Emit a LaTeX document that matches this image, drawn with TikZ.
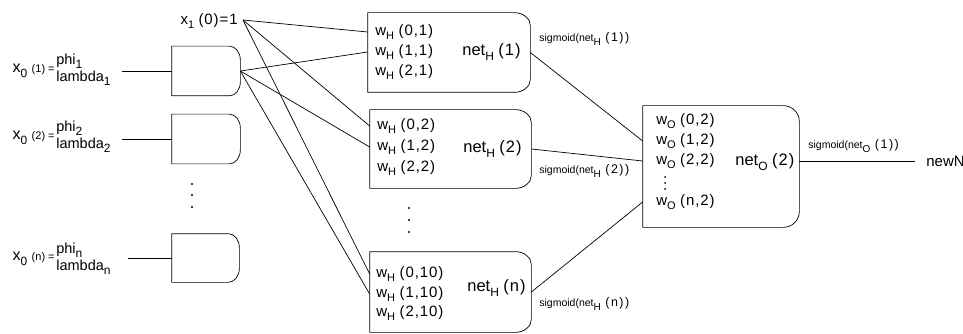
\documentclass[tikz,border=0pt]{standalone}
\usepackage{fontspec}
\setmainfont{Liberation Sans}
\newfontfamily\wsp{Liberation Sans}[LetterSpace=6]
\newfontfamily\ssp{Liberation Sans}[LetterSpace=12]
\newcommand{\dshape}[3]{%
  \draw (#1.north west) -- ([xshift=-#2]#1.north east)
    arc[start angle=90,end angle=0,x radius=#2,y radius=#3]
    -- ([yshift=#3]#1.south east)
    arc[start angle=0,end angle=-90,x radius=#2,y radius=#3]
    -- (#1.south west) -- cycle;}
\def\sbsz{10}
\newcommand{\sbs}[1]{\raisebox{-0.3em}{\fontsize{\sbsz}{\sbsz}\selectfont #1}}
\newcommand{\wpar}[1]{\hspace{4.5pt}{\wsp #1}}
\newcommand{\spar}[1]{\hspace{4.5pt}{\ssp\fontsize{12.5}{13}\selectfont #1}}
\begin{document}
\begin{tikzpicture}[x=1pt,y=-1pt,line width=0.7pt,
  shp/.style={rectangle,inner sep=0pt,draw=none},
  wtxt/.style={anchor=west,inner sep=0pt,font=\fontsize{15}{17}\selectfont\def\sbsz{11}},
  nettxt/.style={anchor=west,inner sep=0pt,font=\fontsize{16.5}{18}\selectfont\def\sbsz{12}},
  sigtxt/.style={anchor=west,inner sep=0pt,font=\fontsize{10.5}{12}\selectfont\def\sbsz{10}},
  xtxt/.style={anchor=east,inner sep=0pt,font=\fontsize{16}{18}\selectfont\def\sbsz{12}},
  pltxt/.style={anchor=west,inner sep=0pt,align=left,font=\fontsize{14.5}{17}\selectfont\def\sbsz{12}}]
\useasboundingbox (0,0) rectangle (963,334);

% input boxes
\node[shp,minimum width=68pt,minimum height=49pt] (i1) at (206,71) {};
\node[shp,minimum width=68pt,minimum height=49pt] (i2) at (206,139) {};
\node[shp,minimum width=67pt,minimum height=48pt] (in) at (205.5,258) {};
\dshape{i1}{11pt}{14pt}
\dshape{i2}{11pt}{14pt}
\dshape{in}{11pt}{14pt}

% input labels
\node[xtxt] (l1) at (55,71) {x\sbs{0} {\fontsize{11}{12}\selectfont(1) =}};
\node[pltxt] (p1) at (56,70) {phi\sbs{1}\\lambda\sbs{1}};
\node[xtxt] (l2) at (55,138) {x\sbs{0} {\fontsize{11}{12}\selectfont(2) =}};
\node[pltxt] (p2) at (56,137) {phi\sbs{2}\\lambda\sbs{2}};
\node[xtxt] (ln) at (55,259) {x\sbs{0} {\fontsize{11}{12}\selectfont(n) =}};
\node[pltxt] (pn) at (56,259) {phi\sbs{n}\\lambda\sbs{n}};
\coordinate (a1) at (122,71);
\coordinate (a2) at (122,139);
\coordinate (an) at (128,258);
\draw (a1) -- (i1.west);
\draw (a2) -- (i2.west);
\draw (an) -- (in.west);
\foreach \yy in {184,195,207} \fill (192,\yy) circle (1.1pt);

% bias
\coordinate (x1) at (243,20);
\node[xtxt,font=\fontsize{15}{17}\selectfont\def\sbsz{11}] (x1l) at (238,21) {x\sbs{1}\wpar{(0)=1}};

% hidden boxes
\node[shp,minimum width=162pt,minimum height=79pt] (h1) at (449,52.5) {};
\node[shp,minimum width=161pt,minimum height=78pt] (h2) at (450.5,149) {};
\node[shp,minimum width=161pt,minimum height=80pt] (hn) at (450.5,292) {};
\dshape{h1}{16pt}{13pt}
\dshape{h2}{16pt}{13pt}
\dshape{hn}{16pt}{13pt}

\node[wtxt] (h1w0) at (375,32) {w\sbs{H}\wpar{(0,1)}};
\node[wtxt] (h1w1) at (375,52) {w\sbs{H}\wpar{(1,1)}};
\node[wtxt] (h1w2) at (375,72) {w\sbs{H}\wpar{(2,1)}};
\node[nettxt] (h1n) at (462,52) {net\sbs{H}\wpar{(1)}};

\node[wtxt] (h2w0) at (377,126) {w\sbs{H}\wpar{(0,2)}};
\node[wtxt] (h2w1) at (377,147) {w\sbs{H}\wpar{(1,2)}};
\node[wtxt] (h2w2) at (377,168) {w\sbs{H}\wpar{(2,2)}};
\node[nettxt] (h2n) at (463,149) {net\sbs{H}\wpar{(2)}};

\node[wtxt] (hnw0) at (376,274) {w\sbs{H}\wpar{(0,10)}};
\node[wtxt] (hnw1) at (376,294) {w\sbs{H}\wpar{(1,10)}};
\node[wtxt] (hnw2) at (376,313) {w\sbs{H}\wpar{(2,10)}};
\node[nettxt] (hnn) at (467,288) {net\sbs{H}\wpar{(n)}};

\foreach \yy in {208,220,232} \fill (409,\yy) circle (1.1pt);

% connections input -> hidden
\draw (x1) -- (h1.west |- h1w0.west);
\draw (x1) -- (h2.west |- h2w0.west);
\draw (x1) -- (hn.west |- hnw0.west);
\draw (i1.east) -- (h1.west |- h1w1.west);
\draw (i1.east) -- (h2.west |- h2w1.west);
\draw (i1.east) -- (hn.west |- hnw1.west);

% output box
\node[shp,minimum width=156pt,minimum height=121pt] (o) at (721,166.5) {};
\dshape{o}{16pt}{16pt}
\node[wtxt] (ow0) at (656,121) {w\sbs{O}\wpar{(0,2)}};
\node[wtxt] (ow1) at (656,141) {w\sbs{O}\wpar{(1,2)}};
\node[wtxt] (ow2) at (656,161) {w\sbs{O}\wpar{(2,2)}};
\node[wtxt] (own) at (656,202) {w\sbs{O}\wpar{(n,2)}};
\foreach \yy in {177,183,189} \fill (665,\yy) circle (1pt);
\node[nettxt] (on) at (735,162) {net\sbs{O}\wpar{(2)}};

% hidden -> output
\draw (h1.east) -- (o.west |- ow1.west);
\draw (h2.east) -- (o.west |- ow2.west);
\draw (hn.east) -- (o.west |- own.west);

% labels
\node[sigtxt] (s1) at (539,39) {sigmoid(net\sbs{H}\spar{(1))}};
\node[sigtxt] (s2) at (539,171) {sigmoid(net\sbs{H}\spar{(2))}};
\node[sigtxt] (sn) at (539,304) {sigmoid(net\sbs{H}\spar{(n))}};
\node[sigtxt] (so) at (808,146) {sigmoid(net\sbs{O}\spar{(1))}};
\node[wtxt] (newN) at (926,161) {newN};
\draw (o.east |- ow2.west) -- ([xshift=-11pt]newN.west);
\end{tikzpicture}
\end{document}
